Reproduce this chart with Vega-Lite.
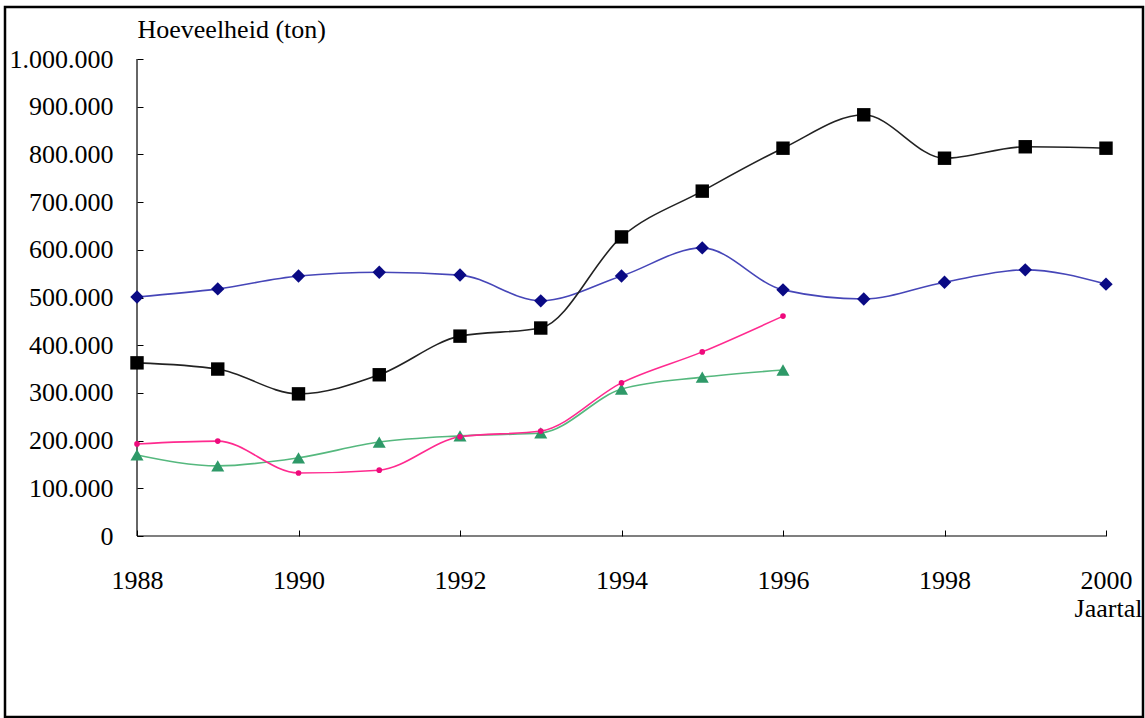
{
  "$schema": "https://vega.github.io/schema/vega-lite/v6.json",
  "width": 1138,
  "height": 710,
  "padding": {"left": 5, "top": 7, "right": 2, "bottom": 1},
  "autosize": {"type": "none"},
  "background": "white",
  "config": {
    "view": {"stroke": "black", "strokeWidth": 2.5},
    "font": "Liberation Serif",
    "axis": {"labelFont": "Liberation Serif", "titleFont": "Liberation Serif", "labelColor": "black", "titleColor": "black", "tickColor": "black", "grid": false, "domain": false, "labelFontSize": 26, "titleFontSize": 26, "titleFontWeight": "normal"},
    "legend": {"labelFont": "Liberation Serif", "labelFontSize": 26, "labelColor": "black"}
  },
  "datasets": {
    "series": [
      {"year": 1988, "series": "Nederland", "value": 501000},
      {"year": 1989, "series": "Nederland", "value": 518000},
      {"year": 1990, "series": "Nederland", "value": 545000},
      {"year": 1991, "series": "Nederland", "value": 553000},
      {"year": 1992, "series": "Nederland", "value": 547000},
      {"year": 1993, "series": "Nederland", "value": 493000},
      {"year": 1994, "series": "Nederland", "value": 545000},
      {"year": 1995, "series": "Nederland", "value": 604000},
      {"year": 1996, "series": "Nederland", "value": 516000},
      {"year": 1997, "series": "Nederland", "value": 497000},
      {"year": 1998, "series": "Nederland", "value": 532000},
      {"year": 1999, "series": "Nederland", "value": 558000},
      {"year": 2000, "series": "Nederland", "value": 528000},
      {"year": 1988, "series": "Canarische Eilanden", "value": 170000},
      {"year": 1989, "series": "Canarische Eilanden", "value": 147000},
      {"year": 1990, "series": "Canarische Eilanden", "value": 164000},
      {"year": 1991, "series": "Canarische Eilanden", "value": 197000},
      {"year": 1992, "series": "Canarische Eilanden", "value": 210000},
      {"year": 1993, "series": "Canarische Eilanden", "value": 216000},
      {"year": 1994, "series": "Canarische Eilanden", "value": 308000},
      {"year": 1995, "series": "Canarische Eilanden", "value": 333000},
      {"year": 1996, "series": "Canarische Eilanden", "value": 348000},
      {"year": 1988, "series": "Spanje (inclusief Canarische Eilanden)", "value": 363000},
      {"year": 1989, "series": "Spanje (inclusief Canarische Eilanden)", "value": 350000},
      {"year": 1990, "series": "Spanje (inclusief Canarische Eilanden)", "value": 298000},
      {"year": 1991, "series": "Spanje (inclusief Canarische Eilanden)", "value": 338000},
      {"year": 1992, "series": "Spanje (inclusief Canarische Eilanden)", "value": 419000},
      {"year": 1993, "series": "Spanje (inclusief Canarische Eilanden)", "value": 436000},
      {"year": 1994, "series": "Spanje (inclusief Canarische Eilanden)", "value": 627000},
      {"year": 1995, "series": "Spanje (inclusief Canarische Eilanden)", "value": 723000},
      {"year": 1996, "series": "Spanje (inclusief Canarische Eilanden)", "value": 813000},
      {"year": 1997, "series": "Spanje (inclusief Canarische Eilanden)", "value": 883000},
      {"year": 1998, "series": "Spanje (inclusief Canarische Eilanden)", "value": 792000},
      {"year": 1999, "series": "Spanje (inclusief Canarische Eilanden)", "value": 816000},
      {"year": 2000, "series": "Spanje (inclusief Canarische Eilanden)", "value": 813000},
      {"year": 1988, "series": "Spaanse vasteland", "value": 193000},
      {"year": 1989, "series": "Spaanse vasteland", "value": 199000},
      {"year": 1990, "series": "Spaanse vasteland", "value": 132000},
      {"year": 1991, "series": "Spaanse vasteland", "value": 138000},
      {"year": 1992, "series": "Spaanse vasteland", "value": 208000},
      {"year": 1993, "series": "Spaanse vasteland", "value": 220000},
      {"year": 1994, "series": "Spaanse vasteland", "value": 321000},
      {"year": 1995, "series": "Spaanse vasteland", "value": 386000},
      {"year": 1996, "series": "Spaanse vasteland", "value": 461000}
    ],
    "axes": [
      {"x": 1988, "x2": 1988, "y": 0, "y2": 1000000},
      {"x": 1988, "x2": 2000, "y": 0, "y2": 0}
    ]
  },
  "layer": [
    {
      "data": {"name": "axes"},
      "mark": {"type": "rule", "color": "black", "strokeWidth": 1.2},
      "encoding": {
        "x": {"field": "x", "type": "quantitative", "scale": {"domain": [1986.3653, 2000.4582], "nice": false, "zero": false},
          "axis": {"orient": "bottom", "offset": -181, "values": [1988, 1990, 1992, 1994, 1996, 1998, 2000], "format": "d", "tickSize": -6, "labelPadding": 37, "labelBaseline": "top", "title": "Jaartal", "titleX": 1103, "titleY": 72, "titleBaseline": "middle", "titleAlign": "center", "titleAnchor": null}},
        "x2": {"field": "x2"},
        "y": {"field": "y", "type": "quantitative", "scale": {"domain": [-379455, 1109015], "nice": false, "zero": false},
          "axis": {"orient": "left", "offset": -132, "values": [0, 100000, 200000, 300000, 400000, 500000, 600000, 700000, 800000, 900000, 1000000], "tickSize": -6, "labelPadding": 30, "labelExpr": "replace(format(datum.value, ','), regexp(',', 'g'), '.')", "title": "Hoeveelheid (ton)", "titleAngle": 0, "titleX": 0, "titleY": 30, "titleAlign": "left", "titleBaseline": "alphabetic"}},
        "y2": {"field": "y2"}
      }
    },
    {
      "data": {"name": "series"},
      "mark": {"type": "line", "interpolate": "monotone", "strokeWidth": 1.6},
      "encoding": {
        "x": {"field": "year", "type": "quantitative"},
        "y": {"field": "value", "type": "quantitative"},
        "stroke": {"field": "series", "type": "nominal", "scale": {"domain": ["Nederland", "Canarische Eilanden", "Spanje (inclusief Canarische Eilanden)", "Spaanse vasteland"], "range": ["#4646b8", "#55b87e", "#222222", "#ff2a8f"]}, "legend": null}
      }
    },
    {
      "data": {"name": "series"},
      "transform": [{"filter": "datum.series === 'Nederland'"}],
      "mark": {"type": "point", "filled": true, "opacity": 1, "size": 180, "shape": "diamond", "strokeWidth": 0},
      "encoding": {
        "x": {"field": "year", "type": "quantitative"},
        "y": {"field": "value", "type": "quantitative"},
        "fill": {"field": "series", "type": "nominal", "scale": {"domain": ["Nederland", "Canarische Eilanden", "Spanje (inclusief Canarische Eilanden)", "Spaanse vasteland"], "range": ["#0a0a84", "#2e9968", "#000000", "#ee0a7c"]},
          "legend": {"title": null, "orient": "none", "legendX": 131, "legendY": 590, "padding": 0, "rowPadding": 6, "labelOffset": 15, "symbolSize": 576, "symbolOpacity": 1, "symbolStrokeWidth": 0, "labelFontSize": 26, "labelLimit": 700,
            "encode": {"symbols": {
              "opacity": {"value": 1},
              "shape": {"value": {"expr": "datum.value === 'Nederland' ? 'M-1.5,-0.06H1.5V0.06H-1.5Z M0,-0.24L0.24,0L0,0.24L-0.24,0Z' : datum.value === 'Canarische Eilanden' ? 'M-1.5,-0.06H1.5V0.06H-1.5Z M0,-0.26L0.26,0.2L-0.26,0.2Z' : datum.value === 'Spaanse vasteland' ? 'M-1.5,-0.06H1.5V0.06H-1.5Z M-0.14,-0.14H0.14V0.14H-0.14Z' : 'M-1.5,-0.06H1.5V0.06H-1.5Z M-0.24,-0.24H0.24V0.24H-0.24Z'"}}
            }}}}
      }
    },
    {
      "data": {"name": "series"},
      "transform": [{"filter": "datum.series === 'Canarische Eilanden'"}],
      "mark": {"type": "point", "filled": true, "opacity": 1, "size": 170, "shape": "triangle-up", "strokeWidth": 0},
      "encoding": {
        "x": {"field": "year", "type": "quantitative"},
        "y": {"field": "value", "type": "quantitative"},
        "fill": {"field": "series", "type": "nominal"}
      }
    },
    {
      "data": {"name": "series"},
      "transform": [{"filter": "datum.series === 'Spanje (inclusief Canarische Eilanden)'"}],
      "mark": {"type": "point", "filled": true, "opacity": 1, "size": 180, "shape": "square", "strokeWidth": 0},
      "encoding": {
        "x": {"field": "year", "type": "quantitative"},
        "y": {"field": "value", "type": "quantitative"},
        "fill": {"field": "series", "type": "nominal"}
      }
    },
    {
      "data": {"name": "series"},
      "transform": [{"filter": "datum.series === 'Spaanse vasteland'"}],
      "mark": {"type": "point", "filled": true, "opacity": 1, "size": 32, "shape": "circle", "strokeWidth": 0},
      "encoding": {
        "x": {"field": "year", "type": "quantitative"},
        "y": {"field": "value", "type": "quantitative"},
        "fill": {"field": "series", "type": "nominal"}
      }
    }
  ]
}
